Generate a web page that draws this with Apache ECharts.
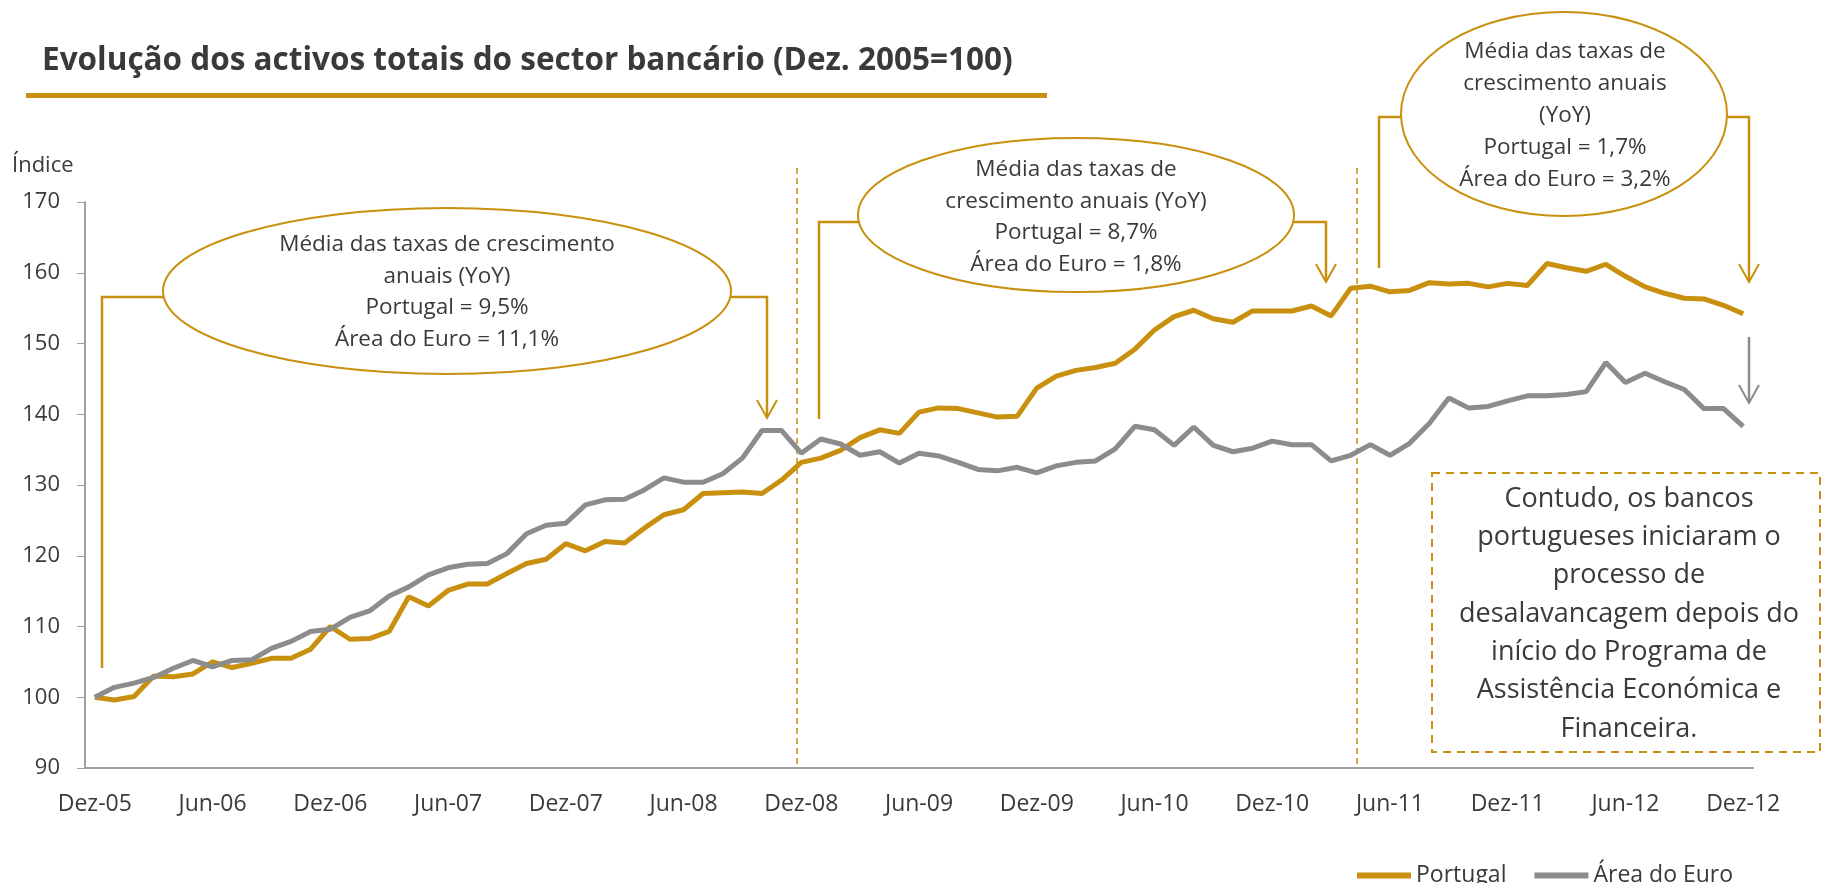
<!DOCTYPE html>
<html lang="pt">
<head>
  <meta charset="UTF-8">
  <title>Evolução dos activos totais do sector bancário</title>
  <script src="https://cdn.jsdelivr.net/npm/echarts@6/dist/echarts.min.js"></script>
  <style>
    html, body { margin: 0; padding: 0; background: #fff; }
    #main { width: 1822px; height: 883px; }
  </style>
</head>
<body>
<div id="main"></div>
<script type="text/javascript">
  // meses (Dez-05 ... Dez-12)
  var mesesPT = ['Jan', 'Fev', 'Mar', 'Abr', 'Mai', 'Jun', 'Jul', 'Ago', 'Set', 'Out', 'Nov', 'Dez'];
  var anos = ['06', '07', '08', '09', '10', '11', '12'];
  var categorias = ['Dez-05'];
  anos.forEach(function (a) {
    mesesPT.forEach(function (m) { categorias.push(m + '-' + a); });
  });

  // índice Dez. 2005 = 100
  var portugal = [
    100.0, 99.6, 100.1, 103.0, 102.9, 103.3, 105.0, 104.2, 104.8, 105.5, 105.5, 106.8,
    110.0, 108.2, 108.3, 109.3, 114.2, 112.9, 115.1, 116.0, 116.0, 117.5, 118.9, 119.5,
    121.7, 120.7, 122.0, 121.8, 123.9, 125.8, 126.5, 128.8, 128.9, 129.0, 128.8, 130.7,
    133.2, 133.8, 134.9, 136.7, 137.8, 137.3, 140.3, 140.9, 140.8, 140.2, 139.6, 139.7,
    143.7, 145.4, 146.2, 146.6, 147.2, 149.2, 151.9, 153.8, 154.7, 153.5, 153.0, 154.6,
    154.6, 154.6, 155.3, 153.9, 157.8, 158.1, 157.3, 157.5, 158.6, 158.4, 158.5, 158.0,
    158.5, 158.2, 161.3, 160.7, 160.2, 161.2, 159.5, 158.0, 157.1, 156.4, 156.3, 155.4,
    154.2
  ];
  var areaEuro = [
    100.0, 101.4, 102.0, 102.8, 104.1, 105.2, 104.3, 105.2, 105.3, 106.9, 107.9, 109.3,
    109.6, 111.3, 112.2, 114.3, 115.6, 117.3, 118.3, 118.8, 118.9, 120.3, 123.1, 124.3,
    124.6, 127.2, 127.9, 128.0, 129.3, 131.0, 130.4, 130.4, 131.6, 133.8, 137.7, 137.7,
    134.5, 136.5, 135.8, 134.2, 134.7, 133.1, 134.5, 134.1, 133.2, 132.2, 132.0, 132.5,
    131.7, 132.7, 133.2, 133.4, 135.1, 138.3, 137.8, 135.6, 138.2, 135.6, 134.7, 135.2,
    136.2, 135.7, 135.7, 133.4, 134.2, 135.7, 134.2, 135.9, 138.7, 142.3, 140.9, 141.1,
    141.9, 142.6, 142.6, 142.8, 143.2, 147.3, 144.5, 145.8, 144.6, 143.5, 140.8, 140.8,
    138.3
  ];

  var nomesSeries = ['Portugal', 'Área do Euro'];
  var ouro = '#C8900E';
  var cinza = '#8C8C8C';
  var corTexto = '#3a3a3a';
  var fonte = 'Open Sans';

  var chartDom = document.getElementById('main');
  var myChart = echarts.init(chartDom);

  function seta(xTip, yTip, cor) {
    return {
      type: 'polyline',
      shape: { points: [[xTip - 10, yTip - 18], [xTip, yTip], [xTip + 10, yTip - 18]] },
      style: { stroke: cor, lineWidth: 2, fill: null }
    };
  }
  function linha(pts, cor, dash) {
    return {
      type: 'polyline',
      shape: { points: pts },
      style: { stroke: cor, lineWidth: dash ? 1.5 : 2.5, lineDash: dash || null, fill: null }
    };
  }
  function texto(x, y, t, size, lh, bold) {
    return {
      type: 'text', x: x, y: y,
      style: {
        text: t, fill: corTexto, fontFamily: fonte, fontSize: size,
        fontWeight: bold ? 'bold' : 'normal', lineHeight: lh,
        align: 'center', verticalAlign: 'middle'
      }
    };
  }
  function elipse(cx, cy, rx, ry) {
    return {
      type: 'ellipse',
      shape: { cx: cx, cy: cy, rx: rx, ry: ry },
      style: { stroke: ouro, lineWidth: 2, fill: 'rgba(255,255,255,0)' }
    };
  }

  var option = {
    animation: false,
    textStyle: { fontFamily: fonte },
    grid: { left: 85, right: 69, top: 202, bottom: 115 },
    legend: {
      data: nomesSeries,
      left: 1352, top: 859,
      icon: 'rect', itemWidth: 54, itemHeight: 6, itemGap: 28,
      textStyle: { fontSize: 23, color: corTexto, fontFamily: fonte }
    },
    xAxis: {
      type: 'category',
      data: categorias,
      boundaryGap: true,
      axisLine: { lineStyle: { color: '#a0a0a0', width: 2 } },
      axisTick: { show: false },
      axisLabel: { interval: 5, fontSize: 23, color: corTexto, margin: 25 }
    },
    yAxis: {
      type: 'value',
      min: 90, max: 170, interval: 10,
      axisLine: { show: true, lineStyle: { color: '#a0a0a0', width: 2 } },
      axisTick: { show: true, length: 8, lineStyle: { color: '#a0a0a0' } },
      splitLine: { show: false },
      axisLabel: { fontSize: 22, color: corTexto, margin: 25 }
    },
    series: [
      {
        name: nomesSeries[0], type: 'line', data: portugal,
        symbol: 'none', color: ouro, lineStyle: { width: 5, color: ouro }
      },
      {
        name: nomesSeries[1], type: 'line', data: areaEuro,
        symbol: 'none', color: cinza, lineStyle: { width: 5, color: cinza }
      }
    ],
    graphic: [
      // título
      {
        type: 'text', x: 42, y: 61,
        style: {
          text: 'Evolução dos activos totais do sector bancário (Dez. 2005=100)',
          fill: corTexto, fontFamily: fonte, fontSize: 31.5, fontWeight: 'bold',
          align: 'left', verticalAlign: 'middle'
        }
      },
      { type: 'rect', shape: { x: 26, y: 93, width: 1021, height: 5 }, style: { fill: ouro } },
      {
        type: 'text', x: 12, y: 166,
        style: { text: 'Índice', fill: corTexto, fontFamily: fonte, fontSize: 22, align: 'left', verticalAlign: 'middle' }
      },
      // linhas verticais tracejadas
      linha([[797, 168], [797, 768]], ouro, [6, 4]),
      linha([[1357, 168], [1357, 768]], ouro, [6, 4]),
      // caixa 1
      elipse(447, 291, 284, 83),
      texto(447, 292, 'Média das taxas de crescimento\nanuais (YoY)\nPortugal = 9,5%\nÁrea do Euro = 11,1%', 22.5, 31.5),
      linha([[102, 668], [102, 297], [163, 297]], ouro),
      linha([[731, 297], [767, 297], [767, 417]], ouro),
      seta(767, 418, ouro),
      // caixa 2
      elipse(1076, 215, 218, 77),
      texto(1076, 217, 'Média das taxas de\ncrescimento anuais (YoY)\nPortugal = 8,7%\nÁrea do Euro = 1,8%', 22.5, 31.7),
      linha([[819, 419], [819, 222], [859, 222]], ouro),
      linha([[1294, 222], [1326, 222], [1326, 281]], ouro),
      seta(1326, 282, ouro),
      // caixa 3
      elipse(1564, 114, 163, 102),
      texto(1565, 116, 'Média das taxas de\ncrescimento anuais\n(YoY)\nPortugal = 1,7%\nÁrea do Euro = 3,2%', 22.5, 32),
      linha([[1379, 268], [1379, 117], [1402, 117]], ouro),
      linha([[1726, 117], [1749, 117], [1749, 281]], ouro),
      seta(1749, 282, ouro),
      // seta cinzenta
      linha([[1749, 337], [1749, 402]], cinza),
      seta(1749, 403, cinza),
      // nota
      {
        type: 'rect',
        shape: { x: 1432, y: 473, width: 388, height: 279 },
        style: { stroke: ouro, lineWidth: 2, lineDash: [8, 6], fill: 'rgba(255,255,255,0)' }
      },
      texto(1629, 614, 'Contudo, os bancos\nportugueses iniciaram o\nprocesso de\ndesalavancagem depois do\ninício do Programa de\nAssistência Económica e\nFinanceira.', 27, 38.3)
    ]
  };

  option && myChart.setOption(option);
</script>
</body>
</html>
